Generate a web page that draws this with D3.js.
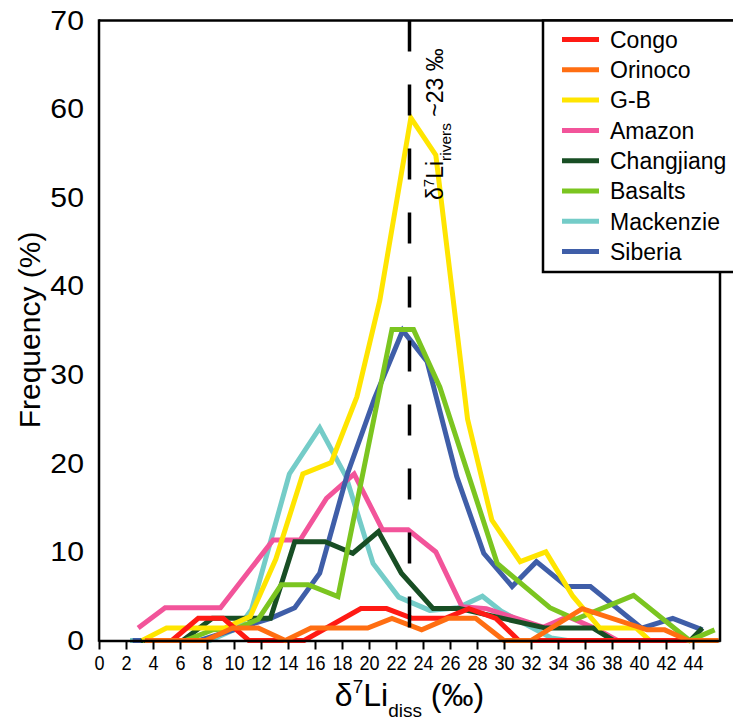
<!DOCTYPE html>
<html>
<head>
<meta charset="utf-8">
<script src="https://d3js.org/d3.v7.min.js"></script>
<style>
  body { margin: 0; background: #fff; }
  text { font-family: "Liberation Sans", Arial, sans-serif; fill: #000; }
</style>
</head>
<body>
<div id="chart"></div>
<script>
// x = delta7Li bin position (permil), y = frequency (%)
var congoX = [5.4, 7.35, 9.2, 11.1, 15.2, 19.4, 21.3, 23.2, 25.65, 27.4, 29.4, 31.1, 45.7];
var congoY = [0, 2.5, 2.5, 0, 0, 3.6, 3.6, 2.5, 2.5, 3.6, 2.5, 0, 0];

var orinocoX = [3.4, 7.9, 9.9, 11.8, 13.8, 15.7, 19.9, 21.7, 23.9, 25.85, 27.9, 30.0, 32.0, 35.8, 40.6, 41.9, 43.65, 45.9];
var orinocoY = [0, 0, 1.4, 1.4, 0, 1.4, 1.4, 2.5, 1.2, 2.5, 2.5, 0, 0, 3.6, 1.2, 1.2, 0, 0];

var gbX = [3.2, 5.0, 9.3, 11.2, 13.1, 15.1, 17.2, 19.1, 20.8, 23.1, 24.95, 27.3, 29.1, 31.2, 33.1, 35.1, 37.1, 39.8, 40.8];
var gbY = [0, 1.4, 1.4, 2.7, 9.2, 18.8, 20.1, 27.5, 38.4, 59, 54.8, 25, 13.6, 8.9, 10.0, 5.0, 1.4, 1.4, 0];

var amazonX = [2.9, 4.9, 9.0, 12.9, 14.9, 16.85, 18.9, 21.0, 22.9, 24.95, 26.9, 28.7, 32.9, 34.75, 37.0, 38.4];
var amazonY = [1.4, 3.7, 3.7, 11.35, 11.35, 16.05, 18.8, 12.5, 12.5, 10.0, 3.8, 3.6, 1.5, 2.7, 1.2, 0];

var changjiangX = [3.1, 6.2, 8.4, 12.7, 14.5, 16.75, 18.8, 20.7, 22.4, 24.75, 26.7, 33.1, 36.6, 38.1, 43.8, 44.7];
var changjiangY = [0, 0, 2.5, 2.5, 11.15, 11.15, 9.85, 12.3, 7.6, 3.6, 3.6, 1.4, 1.4, 0, 0, 1.4];

var basaltsX = [3.7, 6.4, 8.4, 10.3, 11.8, 13.5, 15.5, 17.7, 21.7, 23.3, 25.25, 29.5, 33.4, 35.3, 39.6, 43.75, 45.6];
var basaltsY = [0, 0, 1.2, 1.4, 2.4, 6.3, 6.3, 4.95, 35.1, 35.1, 28.6, 8.7, 3.7, 2.4, 5.1, 0, 1.2];

var mackenzieX = [2.3, 8.2, 10.3, 11.3, 14.1, 16.35, 18.3, 20.3, 22.2, 24.5, 26.6, 28.4, 29.8, 33.5, 34.7];
var mackenzieY = [0, 0, 1.4, 3.5, 18.8, 24.0, 18.5, 8.7, 4.9, 3.4, 3.7, 5.0, 3.3, 0.3, 0];

var siberiaX = [2.5, 7.45, 12.7, 14.5, 16.35, 18.4, 20.4, 22.5, 24.3, 26.5, 28.5, 30.6, 32.4, 34.65, 36.4, 40.2, 42.5, 44.7];
var siberiaY = [0, 0, 2.5, 3.7, 7.6, 18.8, 27.3, 35, 31.5, 18.5, 9.85, 6.1, 8.9, 6.1, 6.1, 1.4, 2.5, 1.2];

var legendNames = ["Congo", "Orinoco", "G-B", "Amazon", "Changjiang", "Basalts", "Mackenzie", "Siberia"];
var legendColors = ["#ff1a14", "#ff6e12", "#ffe500", "#f2549a", "#184e24", "#7bc520", "#74ccc8", "#3f5ea8"];

var xTicks = d3.range(0, 46, 2);
var yTicks = d3.range(0, 80, 10);
var riverMean = 23;

var svgWidth = 733;
var svgHeight = 724;

var svg = d3.select("#chart")
  .append("svg")
  .attr("width", svgWidth)
  .attr("height", svgHeight);

var xScale = d3.scaleLinear().domain([0, 46]).range([99, 720]);
var yScale = d3.scaleLinear().domain([0, 70]).range([640.5, 20.5]);

// series in drawing order (bottom first)
var series = [
  {name: "Mackenzie", x: mackenzieX, y: mackenzieY},
  {name: "Amazon", x: amazonX, y: amazonY},
  {name: "Siberia", x: siberiaX, y: siberiaY},
  {name: "Changjiang", x: changjiangX, y: changjiangY},
  {name: "Basalts", x: basaltsX, y: basaltsY},
  {name: "G-B", x: gbX, y: gbY},
  {name: "Congo", x: congoX, y: congoY},
  {name: "Orinoco", x: orinocoX, y: orinocoY}
];

var line = d3.line()
  .x(d => xScale(d[0]))
  .y(d => yScale(d[1]));

svg.append("g")
  .selectAll("path")
  .data(series)
  .enter()
  .append("path")
  .attr("d", s => line(s.x.map((v, i) => [v, s.y[i]])))
  .attr("fill", "none")
  .attr("stroke", s => legendColors[legendNames.indexOf(s.name)])
  .attr("stroke-width", 5)
  .attr("stroke-miterlimit", 3);

// dashed mean line
svg.append("line")
  .attr("x1", xScale(riverMean))
  .attr("x2", xScale(riverMean))
  .attr("y1", yScale(70))
  .attr("y2", 631)
  .attr("stroke", "#000")
  .attr("stroke-width", 3.5)
  .attr("stroke-dasharray", "31,33");

var note = svg.append("text")
  .attr("transform", `translate(443, 200) rotate(-90)`)
  .style("font-size", "23px");
note.append("tspan").text("δ");
note.append("tspan").attr("dy", -9).style("font-size", "15px").text("7");
note.append("tspan").attr("dy", 9).text("Li");
note.append("tspan").attr("dy", 8).style("font-size", "15.5px").text("rivers");
note.append("tspan").attr("dy", -8).text(" ~23 ‰");

// frame
var frame = svg.append("g")
  .attr("fill", "none")
  .attr("stroke", "#000")
  .attr("stroke-width", 2.5);
frame.append("line").attr("x1", 99).attr("x2", 99).attr("y1", 19.3).attr("y2", 641.7);
frame.append("line").attr("x1", 99).attr("x2", 733).attr("y1", 20.5).attr("y2", 20.5);
frame.append("line").attr("x1", 720).attr("x2", 720).attr("y1", 272).attr("y2", 641.7);

// x axis
var xAxis = svg.append("g")
  .attr("transform", `translate(0, ${yScale(0)})`)
  .call(d3.axisBottom(xScale).tickValues(xTicks).tickSize(9).tickPadding(6).tickSizeOuter(0));
xAxis.select(".domain").attr("stroke-width", 2.5);
xAxis.selectAll(".tick line").attr("stroke-width", 2);
xAxis.selectAll(".tick text")
  .attr("transform", "scale(0.86,1)")
  .style("font-size", "21px")
  .style("font-family", "'Liberation Sans', Arial, sans-serif");

// y axis
var yAxis = svg.append("g")
  .attr("transform", "translate(84, 0)")
  .call(d3.axisLeft(yScale).tickValues(yTicks).tickSize(0).tickPadding(0));
yAxis.select(".domain").remove();
yAxis.selectAll(".tick text")
  .attr("transform", "scale(1.12,1)")
  .style("font-size", "27px")
  .style("font-family", "'Liberation Sans', Arial, sans-serif");

svg.append("text")
  .attr("transform", "translate(40, 330) rotate(-90)")
  .attr("text-anchor", "middle")
  .style("font-size", "30px")
  .text("Frequency (%)");

var xTitle = svg.append("text")
  .attr("x", 409.5)
  .attr("y", 706)
  .attr("text-anchor", "middle")
  .style("font-size", "32px");
xTitle.append("tspan").text("δ");
xTitle.append("tspan").attr("dy", -13).style("font-size", "19px").text("7");
xTitle.append("tspan").attr("dy", 13).text("Li");
xTitle.append("tspan").attr("dy", 11).style("font-size", "19px").text("diss");
xTitle.append("tspan").attr("dy", -11).text(" (‰)");

// legend
var legend = svg.append("g");
legend.append("rect")
  .attr("x", 543)
  .attr("y", 20.5)
  .attr("width", 220)
  .attr("height", 251.5)
  .attr("fill", "#fff")
  .attr("stroke", "#000")
  .attr("stroke-width", 2.5);

var rows = legend.selectAll("g.row")
  .data(legendNames)
  .enter()
  .append("g")
  .attr("class", "row")
  .attr("transform", (d, i) => `translate(0, ${39.5 + i * 30.3})`);
rows.append("line")
  .attr("x1", 562)
  .attr("x2", 599)
  .attr("stroke", (d, i) => legendColors[i])
  .attr("stroke-width", 5);
rows.append("text")
  .attr("x", 610)
  .attr("dy", "0.36em")
  .style("font-size", "23px")
  .text(d => d);
</script>
</body>
</html>
